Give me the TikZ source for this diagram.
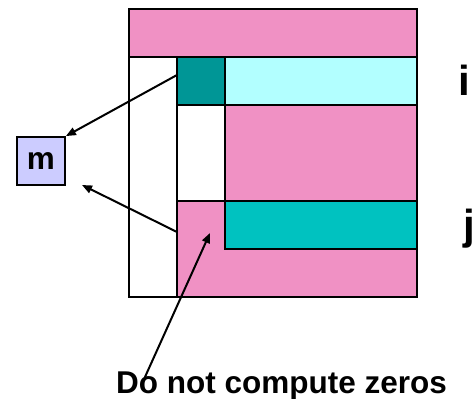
\documentclass[tikz,border=0pt]{standalone}
\usepackage{fontspec}
\setmainfont{Liberation Sans}
\usetikzlibrary{arrows.meta}
\definecolor{cellpink}{RGB}{240,145,196}
\definecolor{darkteal}{RGB}{0,150,150}
\definecolor{lightcyan}{RGB}{178,255,255}
\definecolor{midteal}{RGB}{0,194,192}
\definecolor{lavender}{RGB}{204,204,255}
\begin{document}
\begin{tikzpicture}[x=1pt,y=-1pt,
  cell/.style={draw=black,line width=2.2pt},
  ptr/.style={line width=2pt,-{Triangle[length=10pt,width=8pt]}},
  mbox/.style={draw=black,fill=lavender,line width=1.8pt,minimum size=48pt,inner sep=0pt,
    font=\fontsize{31.5}{36}\selectfont\bfseries},
  idx/.style={anchor=base,font=\fontsize{42}{48}\selectfont\bfseries},
  note/.style={anchor=base,font=\fontsize{31.5}{36}\selectfont\bfseries}]
\useasboundingbox (0,0) rectangle (475,399);
% filled blocks of the matrix
\fill[cellpink] (129,9) rectangle (417,57);
\fill[cellpink] (225,105) rectangle (417,201);
\fill[cellpink] (177,201) rectangle (417,297);
\fill[darkteal] (177,57) rectangle (225,105);
\fill[lightcyan] (225,57) rectangle (417,105);
\fill[midteal] (225,201) rectangle (417,249);
% block outlines
\draw[cell] (129,9) rectangle (417,297);
\draw[cell] (129,57) -- (417,57);
\draw[cell] (177,57) -- (177,297);
\draw[cell] (177,105) -- (417,105);
\draw[cell] (225,57) -- (225,249) -- (417,249);
\draw[cell] (177,201) -- (417,201);
% labels
\node[mbox] (m) at (41,161) {m};
\node[idx] (ilab) at (464.5,95) {i};
\node[idx] (jlab) at (469,239.5) {j};
\node[note] (note) at (281.5,393) {Do not compute zeros};
% arrow end points
\coordinate (tealL) at (177,75);
\coordinate (pinkL) at (177,232);
\coordinate (mbelow) at (82,185);
\coordinate (zeroIn) at (210,233);
\coordinate (noteTop) at (145,377);
\draw[ptr] (tealL) -- (m.north east);
\draw[ptr] (pinkL) -- (mbelow);
\draw[ptr] (noteTop) -- (zeroIn);
\end{tikzpicture}
\end{document}
